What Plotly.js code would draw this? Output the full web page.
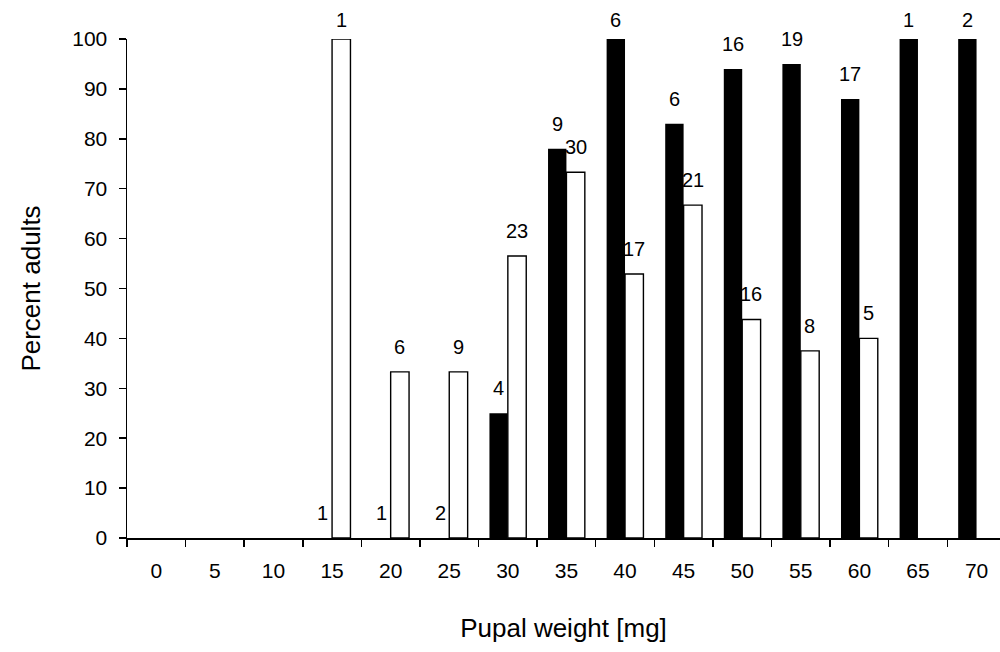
<!DOCTYPE html>
<html>
<head>
<meta charset="utf-8">
<script src="https://cdn.plot.ly/plotly-3.0.1.min.js"></script>
<style>
  html, body { margin: 0; padding: 0; background: #fff; overflow: hidden; }
  #chart { width: 1000px; height: 652px; }
</style>
</head>
<body>
<div id="chart"></div>
<script>
// Pupal weight classes (mg)
const weightClasses = ['0', '5', '10', '15', '20', '25', '30', '35', '40', '45', '50', '55', '60', '65', '70'];

// Percent of pupae reaching adulthood, per weight class
const pctBlack = [null, null, null, 0, 0, 0, 25, 78, 100, 83, 94, 95, 88, 100, 100];
const pctWhite = [null, null, null, 100, 33.3, 33.3, 56.5, 73.3, 52.9, 66.7, 43.8, 37.5, 40, null, null];

// Sample sizes written above each bar
const nBlack = [null, null, null, '1', '1', '2', '4', '9', '6', '6', '16', '19', '17', '1', '2'];
const nWhite = [null, null, null, '1', '6', '9', '23', '30', '17', '21', '16', '8', '5', null, null];

const FONT = 'Arial, "Liberation Sans", Helvetica, sans-serif';
const HALF_BAR = 9.2;   // horizontal offset of each bar within its group (px)

const traces = [
  {
    type: 'bar', x: weightClasses, y: pctBlack, name: 'black',
    marker: { color: '#000000', line: { width: 0 } },
    hoverinfo: 'skip'
  },
  {
    type: 'bar', x: weightClasses, y: pctWhite, name: 'white',
    marker: { color: '#ffffff', line: { color: '#000000', width: 1.4 } },
    hoverinfo: 'skip'
  }
];

// Count labels sit above their bar (category axes place annotations by category index)
function countLabels(values, counts, shift) {
  const out = [];
  values.forEach((v, i) => {
    if (counts[i] == null || v == null) return;
    out.push({
      x: i, y: v, xref: 'x', yref: 'y',
      text: counts[i], showarrow: false,
      xanchor: 'center', yanchor: 'middle',
      xshift: shift, yshift: v >= 100 ? 19 : 25,
      font: { family: FONT, size: 20, color: '#000' }
    });
  });
  return out;
}

const layout = {
  width: 1000, height: 652,
  paper_bgcolor: '#ffffff', plot_bgcolor: '#ffffff',
  margin: { l: 127, r: 0, t: 39, b: 114 },
  showlegend: false,
  barmode: 'group', bargap: 0.372, bargroupgap: 0,
  font: { family: FONT, size: 20, color: '#000' },
  xaxis: {
    type: 'category', categoryorder: 'array', categoryarray: weightClasses,
    range: [-0.5, 14.4],
    tickson: 'boundaries', ticks: 'outside', ticklen: 7, tickwidth: 1.5, tickcolor: '#000',
    showline: true, linecolor: '#000', linewidth: 1.5,
    showgrid: false, zeroline: false,
    ticklabelstandoff: 13,
    tickfont: { family: FONT, size: 21, color: '#000' },
    title: { text: 'Pupal weight [mg]', font: { family: FONT, size: 26, color: '#000' }, standoff: 38 }
  },
  yaxis: {
    range: [0, 100], tickmode: 'linear', tick0: 0, dtick: 10,
    ticks: 'outside', ticklen: 7, tickwidth: 1.5, tickcolor: '#000',
    showline: true, linecolor: '#000', linewidth: 1.5,
    showgrid: false, zeroline: false,
    ticklabelstandoff: 7,
    tickfont: { family: FONT, size: 21, color: '#000' },
    title: { text: 'Percent adults', font: { family: FONT, size: 26, color: '#000' }, standoff: 24 }
  },
  annotations: countLabels(pctBlack, nBlack, -HALF_BAR).concat(countLabels(pctWhite, nWhite, HALF_BAR))
};

Plotly.newPlot('chart', traces, layout, { displayModeBar: false, staticPlot: true });
</script>
</body>
</html>
